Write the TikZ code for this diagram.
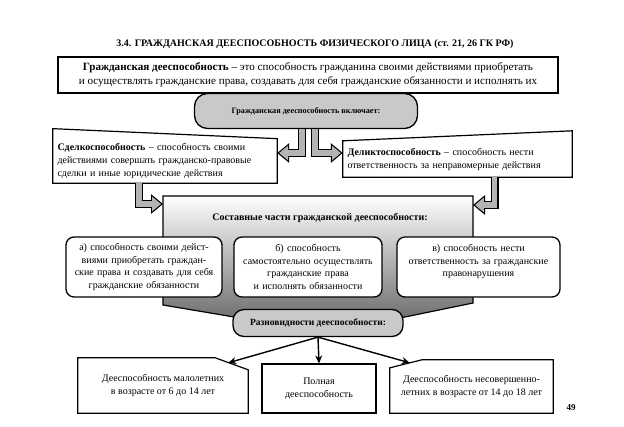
\documentclass[tikz,border=0pt]{standalone}
\usepackage{fontspec}
\setmainfont{Liberation Serif}
\usetikzlibrary{positioning,arrows.meta}
\definecolor{shade1}{HTML}{C9C9C9}
\definecolor{shade2}{HTML}{B4B4B4}
\definecolor{shade3}{HTML}{707070}

\begin{document}
\begin{tikzpicture}[x=1pt, y=-1pt, font=\fontsize{10}{13}\selectfont,
  plainbox/.style={draw, line width=1.2pt, fill=white, inner sep=4pt},
  pillbox/.style={draw, line width=1.3pt, fill=shade1, rounded corners=13pt, font=\fontsize{8.2}{10}\selectfont\bfseries},
  partbox/.style={draw, line width=1.3pt, fill=white, rounded corners=8pt, align=center, minimum height=60pt, inner sep=3pt, font=\fontsize{10}{12.5}\selectfont},
  cutline/.style={line width=1.2pt},
  blockarr/.style={draw=shade2, line width=5.6pt, shorten >=1.9pt, -{Triangle[length=8.9pt, width=14pt]}, preaction={draw=black, line width=8pt, shorten >=0pt, -{Triangle[length=12pt, width=19pt]}}},
  thinarr/.style={draw, line width=1.4pt, -{Stealth[length=8pt, width=7pt]}}]

\useasboundingbox (0,0) rectangle (624,426);

\node[font=\fontsize{10}{12}\selectfont\bfseries] (title) at (315,44) {3.4. ГРАЖДАНСКАЯ ДЕЕСПОСОБНОСТЬ ФИЗИЧЕСКОГО ЛИЦА (ст. 21, 26 ГК РФ)};
\node[plainbox, line width=1.6pt, minimum width=500pt, minimum height=36pt, align=center, font=\fontsize{11.1}{14}\selectfont] (defn) at (308,75) {\textbf{Гражданская дееспособность} – это способность гражданина своими действиями приобретать\\и осуществлять гражданские права, создавать для себя гражданские обязанности и исполнять их};
\node[pillbox, minimum width=223pt, minimum height=35pt] (incl) at (306,111) {Гражданская дееспособность включает:};

\node[minimum width=224pt, minimum height=40pt, text width=215pt, inner sep=4.5pt, align=left] (sdelka) at (165,161) {\textbf{Сделкоспособность} – способность своими\\действиями совершать гражданско-правовые\\сделки и иные юридические действия};
\draw[cutline] ([yshift=10pt]sdelka.north west) -- (sdelka.north east) -- (sdelka.south east) -- (sdelka.south west) -- cycle;
\node[minimum width=229pt, minimum height=36pt, text width=220pt, inner sep=4.5pt, align=left] (delikt) at (457.5,159) {\textbf{Деликтоспособность} – способность нести\\ответственность за неправомерные действия};
\draw[cutline] (delikt.north west) -- ([yshift=10pt]delikt.north east) -- (delikt.south east) -- (delikt.south west) -- cycle;

\draw[blockarr] ([xshift=-4pt]incl.south) |- ([yshift=8pt]sdelka.east);
\draw[blockarr] ([xshift=9pt]incl.south) |- ([yshift=6pt]delikt.west);

\draw[line width=1.2pt, top color=white, bottom color=shade3] (163,196) -- (473,196) -- (473,303) -- (400,318) -- (240,318) -- (163,305) -- cycle;
\node[font=\fontsize{10}{12}\selectfont\bfseries] (parts) at (320,218) {Составные части гражданской дееспособности:};
\coordinate (partsW) at (163,204);
\coordinate (partsE) at (473,205);
\draw[blockarr] ([xshift=-26pt]sdelka.south) |- (partsW);
\draw[blockarr] ([xshift=37pt]delikt.south) |- (partsE);

\node[partbox, text width=150pt] (parta) at (144,267) {а) способность своими дейст-\\виями приобретать граждан-\\ские права и создавать для себя\\гражданские обязанности};
\node[partbox, text width=142pt] (partb) at (308,267) {б) способность\\самостоятельно осуществлять\\гражданские права\\и исполнять обязанности};
\node[partbox, text width=157pt] (partc) at (478.5,267) {в) способность нести\\ответственность за гражданские\\правонарушения\\~};

\node[pillbox, minimum width=170pt, minimum height=27pt, rounded corners=11pt, font=\fontsize{9.5}{11}\selectfont\bfseries] (razn) at (318,323) {Разновидности дееспособности:};

\node[minimum width=170pt, minimum height=55pt, align=center] (young) at (163,385.5) {Дееспособность малолетних\\в возрасте от 6 до 14 лет};
\draw[cutline] (young.north west) -- ([xshift=-33pt]young.north east) -- ([yshift=-12pt]young.north east) -- (young.south east) -- (young.south west) -- cycle;
\node[plainbox, minimum width=114pt, minimum height=49pt, align=center] (full) at (319,388.5) {Полная\\дееспособность};
\node[minimum width=163pt, minimum height=53pt, align=center] (teen) at (471.5,386.5) {Дееспособность несовершенно-\\летних в возрасте от 14 до 18 лет};
\draw[cutline] ([yshift=-8pt]teen.north west) -- ([xshift=32pt]teen.north west) -- (teen.north east) -- (teen.south east) -- (teen.south west) -- cycle;

\draw[thinarr] (razn.south) -- ([xshift=-20pt,yshift=-5pt]young.north east);
\draw[thinarr] (razn.south) -- (full.north);
\draw[thinarr] (razn.south) -- ([xshift=20pt,yshift=-3pt]teen.north west);

\node[font=\fontsize{9}{11}\selectfont\bfseries] (pagenum) at (571,408) {49};
\end{tikzpicture}
\end{document}
